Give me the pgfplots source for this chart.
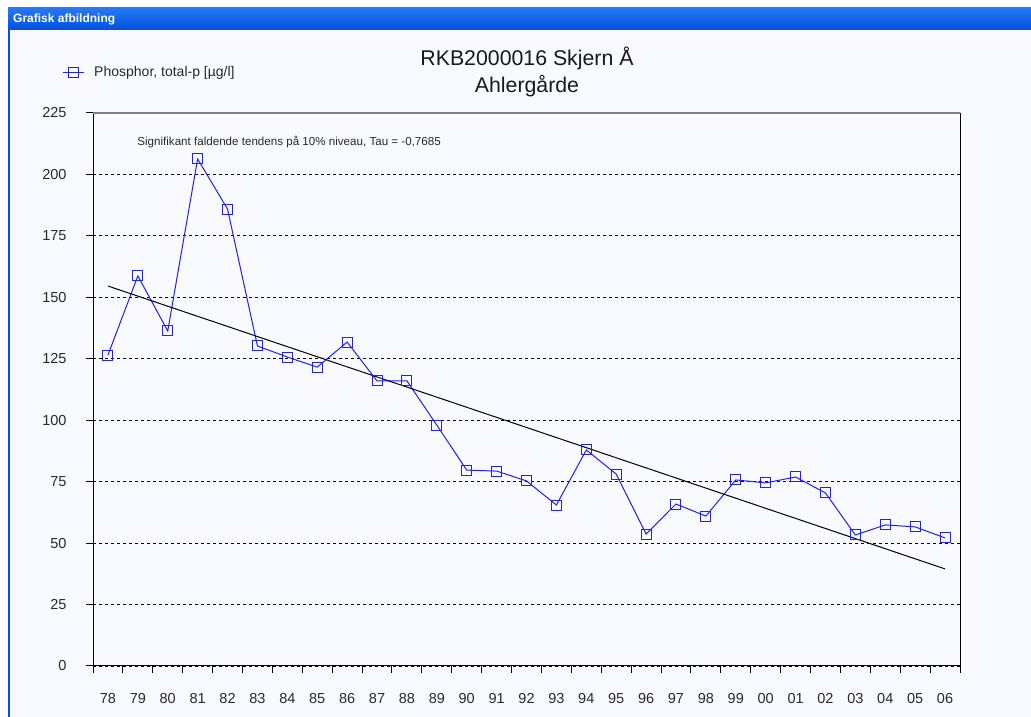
\documentclass[border=0pt]{standalone}
\usepackage{fontspec}
\setmainfont{Liberation Sans}
\usepackage{pgfplots}
\pgfplotsset{compat=1.18}
\definecolor{bgc}{RGB}{248,250,255}
\definecolor{bartop}{RGB}{40,120,240}
\definecolor{barbot}{RGB}{0,80,225}
\definecolor{winborder}{RGB}{0,84,227}
\definecolor{serie}{RGB}{30,30,255}
\definecolor{ticktext}{RGB}{40,40,40}
\begin{document}
\begin{tikzpicture}[x=1pt,y=1pt]
\fill[white] (0,0) rectangle (1031,717);
\fill[bgc] (10,0) rectangle (1031,687);
\shade[top color=bartop, bottom color=barbot] (8,687) rectangle (1031,709);
\fill[winborder] (8,0) rectangle (10,687);
\node[white, font=\bfseries\fontsize{12}{13}\selectfont, anchor=west, inner sep=0pt] at (13,697.5) {Grafisk afbildning};
\begin{axis}[
  at={(93pt,51pt)}, anchor=south west,
  scale only axis, width=867pt, height=553pt,
  xmin=0, xmax=29, ymin=0, ymax=225,
  axis line style={draw=none},
  xtick pos=bottom, ytick pos=left,
  xtick={0.5,1.5,...,28.5},
  xticklabels={78,79,80,81,82,83,84,85,86,87,88,89,90,91,92,93,94,95,96,97,98,99,00,01,02,03,04,05,06},
  minor xtick={0,1,...,29},
  major x tick style={draw=none},
  minor x tick style={black, line width=1pt},
  minor tick length=7pt,
  ytick={0,25,...,225},
  major y tick style={black, line width=1pt},
  major tick length=7pt,
  tick align=outside,
  ymajorgrids=true,
  y grid style={black, dash pattern=on 3pt off 3pt, line width=0.9pt},
  /pgf/number format/assume math mode=true,
  ticklabel style={font=\fontsize{14.5}{16}\selectfont, text=ticktext},
  yticklabel style={xshift=-16pt},
  xticklabel style={yshift=-17pt},
  legend style={at={(rel axis cs:-0.0357,1.074)}, anchor=west, draw=none, fill=none, inner sep=0pt,
    font=\fontsize{14}{16}\selectfont, text=ticktext},
  legend cell align=left,
  legend image code/.code={\draw[mark repeat=2,mark phase=2,#1] plot coordinates {(0pt,0pt)(10.5pt,0pt)(21pt,0pt)};},
  clip=false,
]
\addplot[serie, line width=1pt, mark=square, mark size=5pt, mark options={serie, line width=1pt, fill=none}]
coordinates {
(0.5,126.5)(1.5,158.7)(2.5,136.3)(3.5,206.3)(4.5,185.9)(5.5,130.2)(6.5,125.7)(7.5,121.6)(8.5,131.8)(9.5,116)
(10.5,116)(11.5,98)(12.5,79.7)(13.5,79.3)(14.5,75.3)(15.5,65.5)(16.5,87.9)(17.5,78.1)(18.5,53.7)(19.5,65.9)
(20.5,61)(21.5,75.7)(22.5,74.5)(23.5,76.9)(24.5,70.4)(25.5,53.3)(26.5,57.4)(27.5,56.6)(28.5,52.1)
};
\addlegendentry{\hspace{8pt}Phosphor, total-p [µg/l]}
\addplot[black, line width=1pt, forget plot] coordinates {(0.5,154.6)(28.5,39.5)};
\draw[black, line width=1pt] (rel axis cs:0,1) -- (rel axis cs:0,0) -- (rel axis cs:1,0) -- (rel axis cs:1,1);
\draw[gray, line width=2pt] (rel axis cs:0,1) -- (rel axis cs:1,1);
\node[font=\fontsize{11.6}{13}\selectfont, text=ticktext] at (axis cs:6.56,213.2) {Signifikant faldende tendens på 10\% niveau, Tau = -0,7685};
\end{axis}
\node[font=\fontsize{21.3}{24}\selectfont, text=black!90] at (527,658.5) {RKB2000016 Skjern Å};
\node[font=\fontsize{21.3}{24}\selectfont, text=black!90] at (527,631) {Ahlergårde};
\end{tikzpicture}
\end{document}
